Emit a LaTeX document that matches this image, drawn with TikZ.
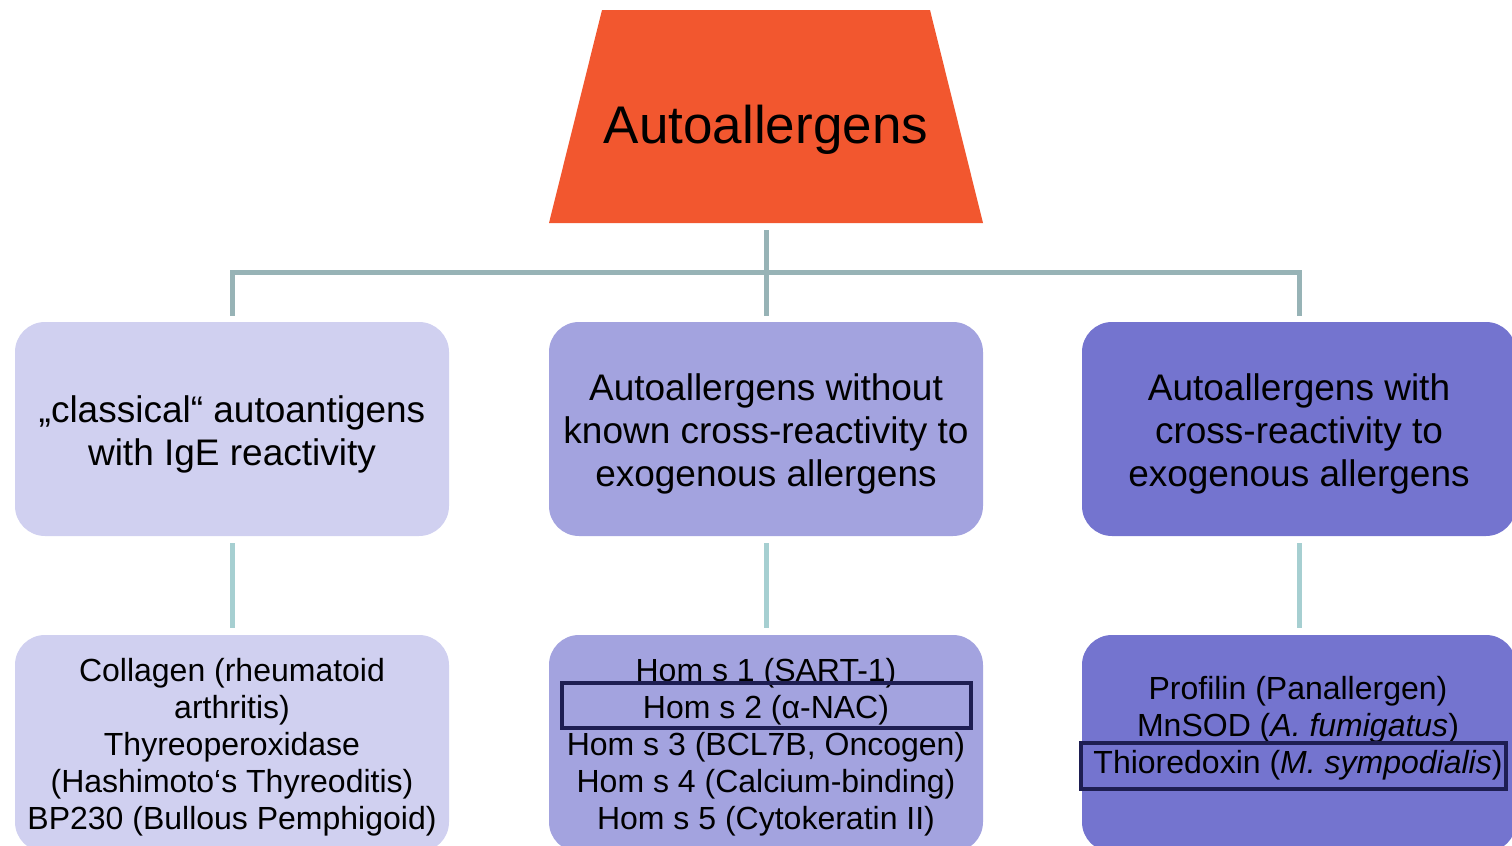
\documentclass[tikz,border=0pt]{standalone}
\usepackage{fontspec}
\setmainfont{Liberation Sans}
\definecolor{topred}{HTML}{F2572F}
\definecolor{paleA}{HTML}{D0D0F0}
\definecolor{paleB}{HTML}{A3A3DF}
\definecolor{paleC}{HTML}{7474CF}
\definecolor{linkA}{HTML}{97B3B6}
\definecolor{linkB}{HTML}{A6CFD1}
\definecolor{navy}{HTML}{1E1E52}

\begin{document}
\begin{tikzpicture}[x=0.5pt,y=-0.5pt,
	box/.style={rounded corners=15pt,minimum width=217pt,minimum height=107pt,inner sep=0pt},
	leaf/.style={box,minimum height=108.5pt},
	boxtext/.style={align=center,inner sep=0pt,font=\fontsize{18.5}{21.5}\selectfont},
	leaftext/.style={align=center,inner sep=0pt,font=\fontsize{16}{18.5}\selectfont},
	hilite/.style={draw=navy,line width=2pt,minimum width=#1,inner sep=0pt},
	link/.style={line width=2.5pt,draw=linkA},
	sublink/.style={line width=2.5pt,draw=linkB,shorten <=3.5pt,shorten >=3.5pt}]
\useasboundingbox (0,0) rectangle (1512,846);
\clip (0,0) rectangle (1512,846);

\fill[topred] (549,223) -- (602,10) -- (930,10) -- (983,223) -- cycle;
\node[inner sep=0pt,font=\fontsize{26.5}{30}\selectfont] (top) at (766,129.5) {Autoallergens};
\coordinate (topfoot) at (766,223);

\node[box,fill=paleA] (cls) at (232,429) {};
\node[box,fill=paleB] (nocross) at (766,429) {};
\node[box,fill=paleC] (cross) at (1299,429) {};
\node[boxtext] (clstext) at (232,434) {„classical“ autoantigens\\with IgE reactivity};
\node[boxtext] (nocrosstext) at (766,434) {Autoallergens without\\known cross-reactivity to\\exogenous allergens};
\node[boxtext] (crosstext) at (1299,434) {Autoallergens with\\cross-reactivity to\\exogenous allergens};

\node[leaf,fill=paleA] (clsleaf) at (232,743.5) {};
\node[leaf,fill=paleB] (homleaf) at (766,743.5) {};
\node[leaf,fill=paleC] (crossleaf) at (1299,743.5) {};
\node[leaftext] (clsleaftext) at (232,747) {Collagen (rheumatoid\\arthritis)\\Thyreoperoxidase\\(Hashimoto‘s Thyreoditis)\\BP230 (Bullous Pemphigoid)};
\node[leaftext] (homleaftext) at (766,747) {Hom s 1 (SART-1)\\Hom s 2 (α-NAC)\\Hom s 3 (BCL7B, Oncogen)\\Hom s 4 (Calcium-binding)\\Hom s 5 (Cytokeratin II)};
\node[leaftext] (crossleaftext) at (1298,728) {Profilin (Panallergen)\\MnSOD (\textit{A. fumigatus})\\Thioredoxin (\textit{M. sympodialis})};

\node[hilite=204.5pt,minimum height=22.5pt] (hom2) at (766.5,705.5) {};
\node[hilite=212.5pt,minimum height=23pt] (thio) at (1293.5,766) {};

\coordinate (fork) at (766,272);
\draw[link] ([yshift=-3.5pt]topfoot) -- ([yshift=3pt]nocross.north);
\draw[link] ([yshift=3pt]cls.north) |- (fork) -| ([yshift=3pt]cross.north);

\draw[sublink] (cls) -- (clsleaf);
\draw[sublink] (nocross) -- (homleaf);
\draw[sublink] (cross) -- (crossleaf);
\end{tikzpicture}
\end{document}
